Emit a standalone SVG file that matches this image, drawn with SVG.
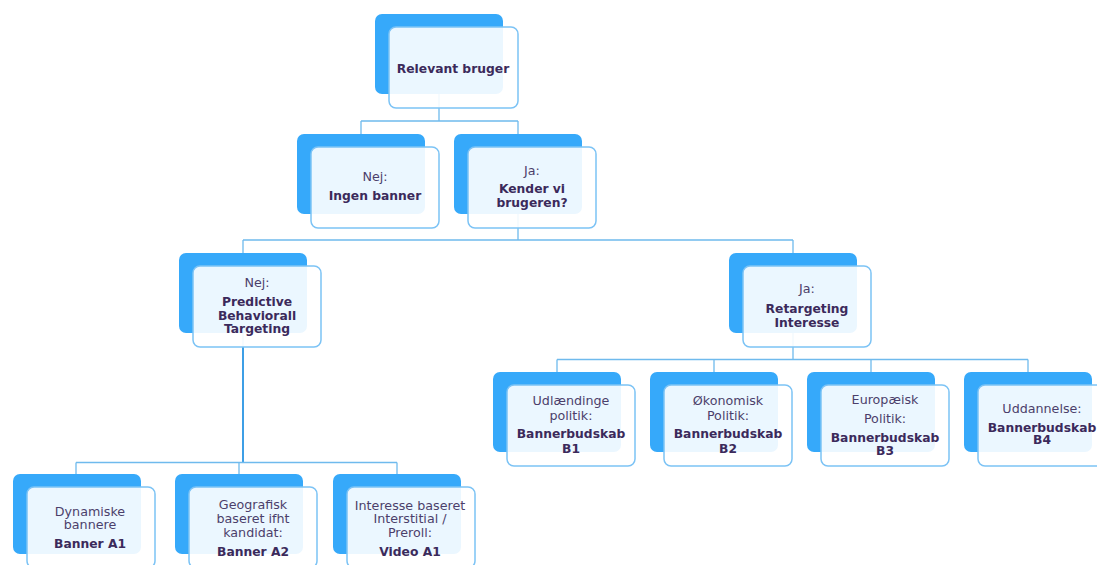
<svg xmlns="http://www.w3.org/2000/svg" width="1097" height="565" viewBox="0 0 1097 565">
<style>
.bg{fill:#36a9fa}
.fg{fill:#ffffff;fill-opacity:0.9;stroke:#7cc3f5;stroke-width:1.5}
.c{fill:none;stroke:#6fbaed;stroke-width:1.3}
.trunk{fill:none;stroke:#3d9fe6;stroke-width:2}
text{font-family:"DejaVu Sans","Liberation Sans",sans-serif;text-anchor:middle}
.r{font-size:12.7px;fill:#4b3f6b}
.b{font-size:12.3px;font-weight:bold;fill:#3b2a5b}
</style>
<rect width="1097" height="565" fill="#ffffff"/>
<g id="connectors">
<path class="c" d="M439,94V121M361,121H518M361,121V134M518,121V134"/>
<path class="c" d="M518,213V240M243,240H793M243,240V253M793,240V253"/>
<path class="c" d="M793,333V359.5M557,359.5H1028M557,359.5V372M714,359.5V372M871,359.5V372M1028,359.5V372"/>
<path class="c" d="M243,333V347"/>
<path class="trunk" d="M243,347V462.5"/>
<path class="c" d="M76,462.5H397M76,462.5V474M239,462.5V474M397,462.5V474"/>
</g>
<g id="root">
<rect class="bg" x="375" y="14" width="128" height="80" rx="7"/>
<rect class="fg" x="389" y="27" width="129" height="81" rx="7"/>
<text class="b" x="453" y="73">Relevant bruger</text>
</g>
<g id="nej1">
<rect class="bg" x="297" y="134" width="128" height="80" rx="7"/>
<rect class="fg" x="311" y="147" width="128" height="81" rx="7"/>
<text class="r" x="375" y="181">Nej:</text>
<text class="b" x="375" y="200">Ingen banner</text>
</g>
<g id="ja1">
<rect class="bg" x="454" y="134" width="128" height="80" rx="7"/>
<rect class="fg" x="468" y="147" width="128" height="81" rx="7"/>
<text class="r" x="532" y="175">Ja:</text>
<text class="b" x="532" y="193">Kender vi</text>
<text class="b" x="532" y="207">brugeren?</text>
</g>
<g id="nej2">
<rect class="bg" x="179" y="253" width="128" height="80" rx="7"/>
<rect class="fg" x="193" y="266" width="128" height="81" rx="7"/>
<text class="r" x="257" y="287">Nej:</text>
<text class="b" x="257" y="306">Predictive</text>
<text class="b" x="257" y="320">Behaviorall</text>
<text class="b" x="257" y="333">Targeting</text>
</g>
<g id="ja2">
<rect class="bg" x="729" y="253" width="128" height="80" rx="7"/>
<rect class="fg" x="743" y="266" width="128" height="81" rx="7"/>
<text class="r" x="807" y="293">Ja:</text>
<text class="b" x="807" y="313">Retargeting</text>
<text class="b" x="807" y="327">Interesse</text>
</g>
<g id="b1">
<rect class="bg" x="493" y="372" width="128" height="80" rx="7"/>
<rect class="fg" x="507" y="385" width="128" height="81" rx="7"/>
<text class="r" x="571" y="405">Udlændinge</text>
<text class="r" x="571" y="420">politik:</text>
<text class="b" x="571" y="438">Bannerbudskab</text>
<text class="b" x="571" y="453">B1</text>
</g>
<g id="b2">
<rect class="bg" x="650" y="372" width="128" height="80" rx="7"/>
<rect class="fg" x="664" y="385" width="128" height="81" rx="7"/>
<text class="r" x="728" y="405">Økonomisk</text>
<text class="r" x="728" y="420">Politik:</text>
<text class="b" x="728" y="438">Bannerbudskab</text>
<text class="b" x="728" y="453">B2</text>
</g>
<g id="b3">
<rect class="bg" x="807" y="372" width="128" height="80" rx="7"/>
<rect class="fg" x="821" y="385" width="128" height="81" rx="7"/>
<text class="r" x="885" y="404">Europæisk</text>
<text class="r" x="885" y="423">Politik:</text>
<text class="b" x="885" y="442">Bannerbudskab</text>
<text class="b" x="885" y="455">B3</text>
</g>
<g id="b4">
<rect class="bg" x="964" y="372" width="128" height="80" rx="7"/>
<rect class="fg" x="978" y="385" width="128" height="81" rx="7"/>
<text class="r" x="1042" y="413">Uddannelse:</text>
<text class="b" x="1042" y="432">Bannerbudskab</text>
<text class="b" x="1042" y="444">B4</text>
</g>
<g id="a1">
<rect class="bg" x="13" y="474" width="128" height="80" rx="7"/>
<rect class="fg" x="27" y="487" width="128" height="81" rx="7"/>
<text class="r" x="90" y="516">Dynamiske</text>
<text class="r" x="90" y="529">bannere</text>
<text class="b" x="90" y="548">Banner A1</text>
</g>
<g id="a2">
<rect class="bg" x="175" y="474" width="128" height="80" rx="7"/>
<rect class="fg" x="189" y="487" width="128" height="81" rx="7"/>
<text class="r" x="253" y="509">Geografisk</text>
<text class="r" x="253" y="523">baseret ifht</text>
<text class="r" x="253" y="537">kandidat:</text>
<text class="b" x="253" y="556">Banner A2</text>
</g>
<g id="v1">
<rect class="bg" x="333" y="474" width="128" height="80" rx="7"/>
<rect class="fg" x="347" y="487" width="128" height="81" rx="7"/>
<text class="r" x="410" y="510">Interesse baseret</text>
<text class="r" x="410" y="523">Interstitial /</text>
<text class="r" x="410" y="537">Preroll:</text>
<text class="b" x="410" y="556">Video A1</text>
</g>
</svg>
